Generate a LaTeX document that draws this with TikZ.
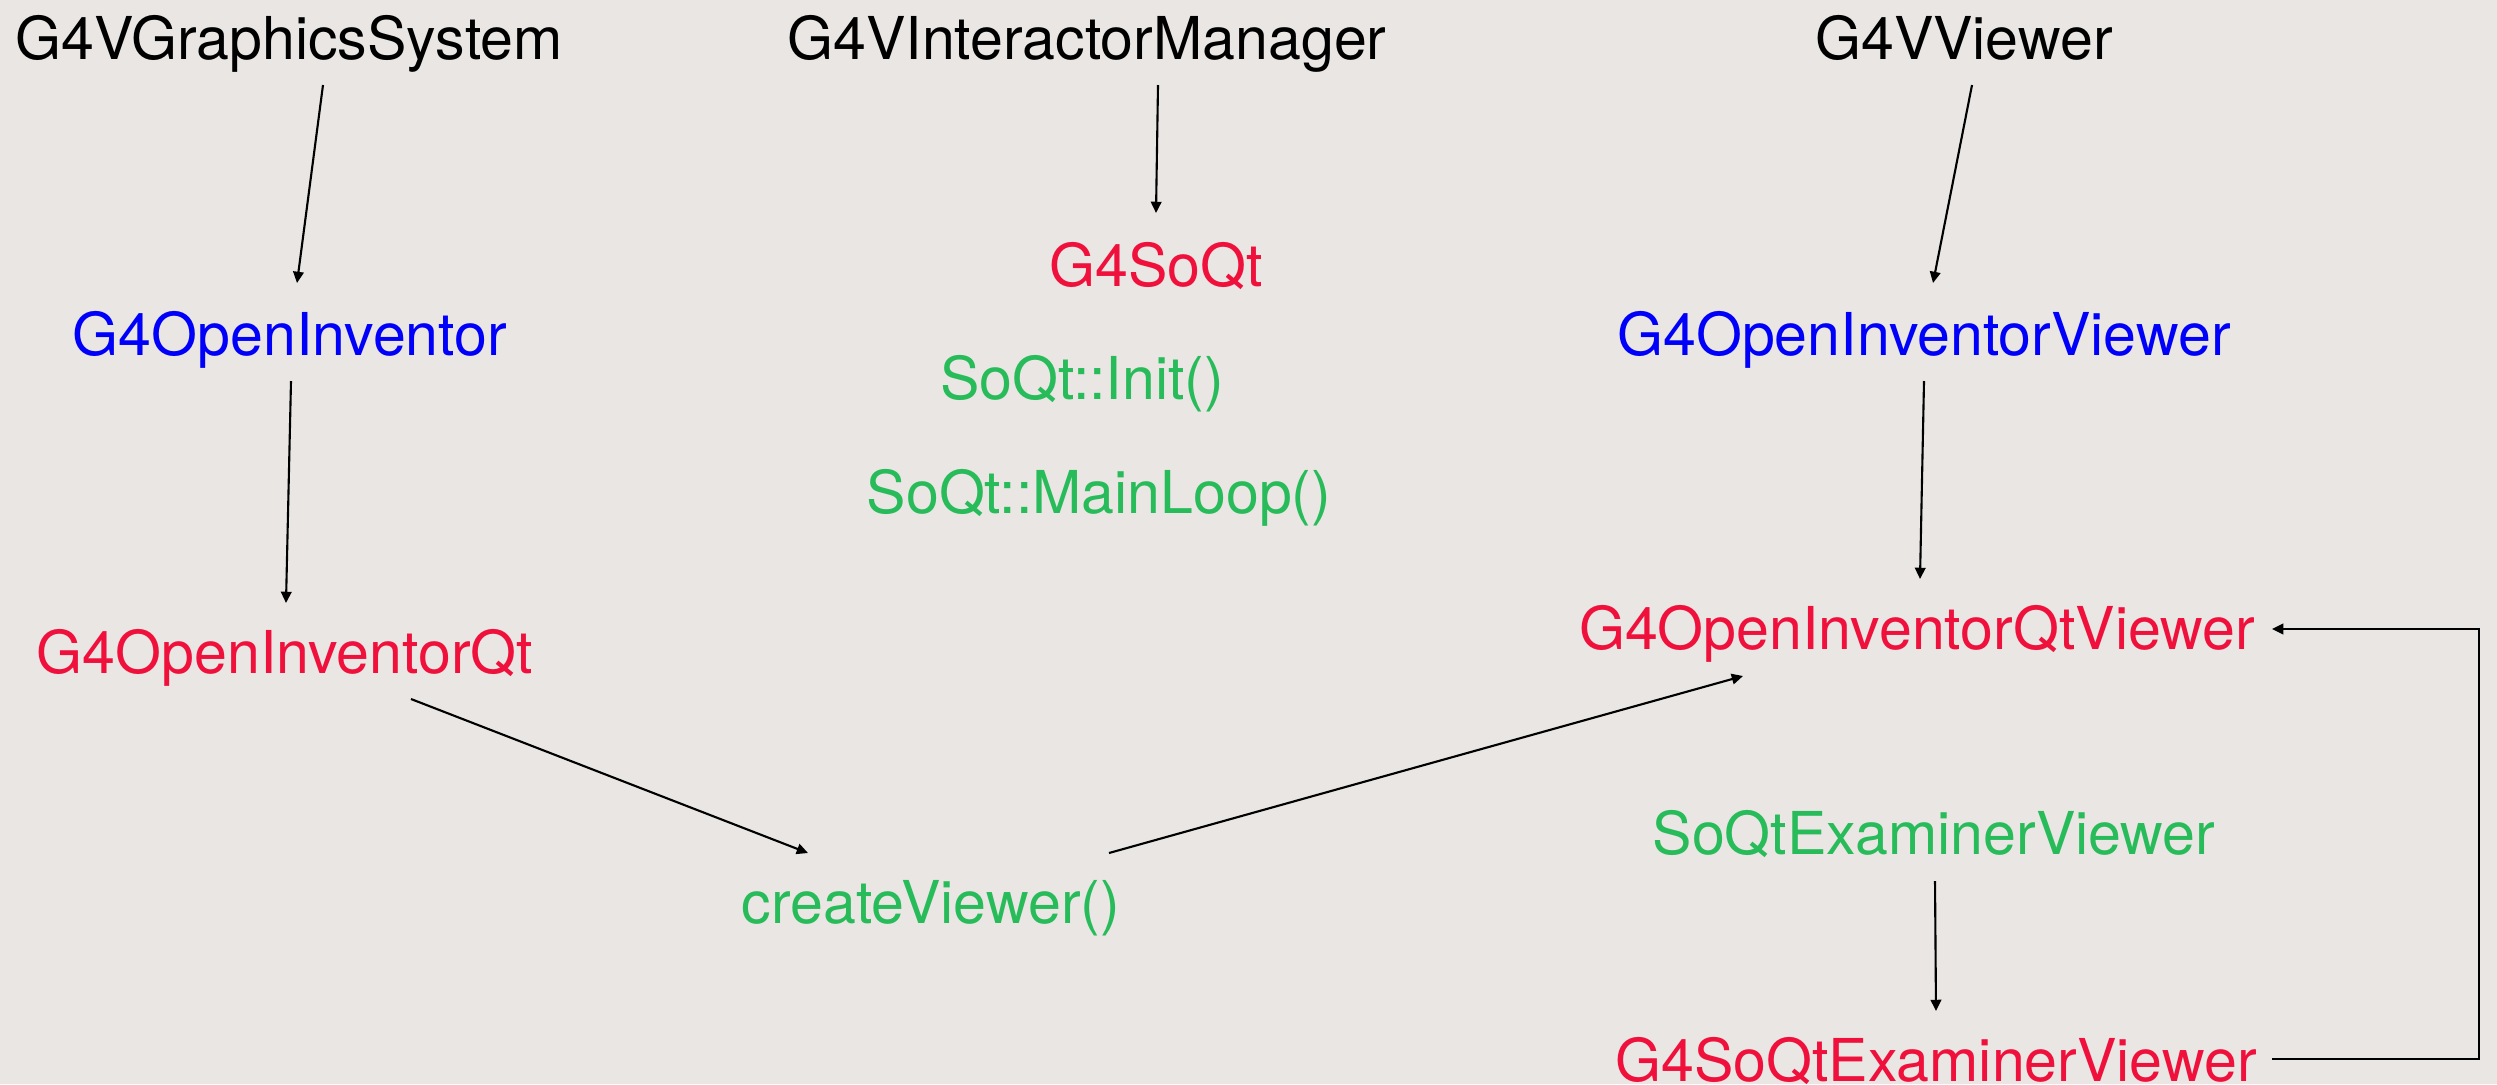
\documentclass[tikz,border=0pt]{standalone}
\usepackage{fontspec}
\setmainfont{TeX Gyre Heros}
\usetikzlibrary{arrows.meta}
\definecolor{bgc}{RGB}{233,230,227}
\definecolor{cred}{RGB}{240,16,60}
\definecolor{cblue}{RGB}{0,0,250}
\definecolor{cgreen}{RGB}{40,187,90}
\tikzset{
  lbl/.style={anchor=base, inner sep=0pt, font=\fontsize{16.8pt}{20pt}\selectfont},
  abstract/.style={lbl, text=black},
  impl/.style={lbl, text=cred},
  base/.style={lbl, text=cblue},
  soqt/.style={lbl, text=cgreen},
  arr/.style={draw=black, line width=0.6pt, -{Triangle[length=3.2pt,width=3pt]}}
}
\begin{document}
\begin{tikzpicture}[x=0.01cm,y=-0.01cm]
\fill[bgc] (0,0) rectangle (2497,1084);
\useasboundingbox (0,0) rectangle (2497,1084);

\node[abstract] (gvs)  at (289,59)   {G4VGraphicsSystem};
\node[abstract] (gim)  at (1087,59)  {G4VInteractorManager};
\node[abstract] (gvv)  at (1964,59)  {G4VViewer};
\node[base]     (goi)  at (290,355)  {G4OpenInventor};
\node[impl]     (gsq)  at (1156,286) {G4SoQt};
\node[soqt]     (init) at (1082,399) {SoQt::Init()};
\node[soqt]     (main) at (1099,513) {SoQt::MainLoop()};
\node[base]     (goiv) at (1924,355) {G4OpenInventorViewer};
\node[impl]     (goiq) at (285,673)  {G4OpenInventorQt};
\node[impl]     (goqv) at (1917,649) {G4OpenInventorQtViewer};
\node[soqt]     (sqe)  at (1934,854) {SoQtExaminerViewer};
\node[soqt]     (cv)   at (931,923)  {createViewer()};
\node[impl]     (gsqe) at (1936,1081) {G4SoQtExaminerViewer};

\draw[arr] ([shift={(34,26)}]gvs.base) -- ([shift={(7,-72)}]goi.base);
\draw[arr] ([shift={(1,26)}]goi.base) -- ([shift={(1,-70)}]goiq.base);
\draw[arr] ([shift={(71,26)}]gim.base) -- ([shift={(0,-73)}]gsq.base);
\draw[arr] ([shift={(8,26)}]gvv.base) -- ([shift={(9,-72)}]goiv.base);
\draw[arr] ([shift={(0,26)}]goiv.base) -- ([shift={(3,-70)}]goqv.base);
\draw[arr] ([shift={(126,26)}]goiq.base) -- ([shift={(-123,-70)}]cv.base);
\draw[arr] ([shift={(178,-70)}]cv.base) -- ([shift={(-174,27)}]goqv.base);
\draw[arr] ([shift={(1,27)}]sqe.base) -- ([shift={(0,-70)}]gsqe.base);
\draw[arr] ([shift={(336,-22)}]gsqe.base) -- ++(207,0) |- ([shift={(355,-20)}]goqv.base);
\end{tikzpicture}
\end{document}
